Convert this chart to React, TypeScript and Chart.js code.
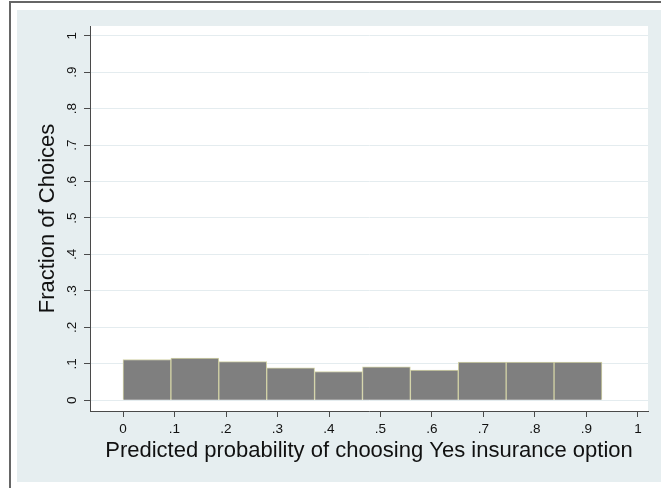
import React, { useEffect, useRef } from 'react';
import { Chart, registerables } from 'chart.js';

Chart.register(...registerables);

// Histogram bins of the predicted probability (bin width ~0.093, starting at 0)
const binWidth = 0.093;
const binStarts = [0, 0.093, 0.186, 0.279, 0.372, 0.465, 0.558, 0.651, 0.744, 0.837];
const fractions = [0.112, 0.116, 0.106, 0.089, 0.079, 0.092, 0.083, 0.105, 0.105, 0.105];

// Axis ticks (shared by both axes)
const tickValues = [0, 0.1, 0.2, 0.3, 0.4, 0.5, 0.6, 0.7, 0.8, 0.9, 1];
const tickLabels = ['0', '.1', '.2', '.3', '.4', '.5', '.6', '.7', '.8', '.9', '1'];

const xTitle = 'Predicted probability of choosing Yes insurance option';
const yTitle = 'Fraction of Choices';

const FONT = "'Liberation Sans', Arial, Helvetica, sans-serif";
const REGION_BG = '#e6eef0';
const GRID = '#e4ecef';
const AXIS = '#4a4a4a';

// Graph region, plot region and outer frame
const backdrop = {
  id: 'backdrop',
  beforeDraw(chart: Chart) {
    const { ctx, chartArea: a, width, height } = chart;
    ctx.save();
    ctx.fillStyle = '#ffffff';
    ctx.fillRect(0, 0, width, height);
    ctx.fillStyle = REGION_BG;
    ctx.fillRect(17, 10, width - 17, 472);
    ctx.fillStyle = '#ffffff';
    ctx.fillRect(a.left, a.top, a.right - a.left, a.bottom - a.top);
    ctx.fillStyle = '#666666';
    ctx.fillRect(9, 1, 2, height);
    ctx.fillRect(9, 1, width - 9, 2);
    ctx.restore();
  },
};

const setTicks = (scale: any) => {
  scale.ticks = tickValues.map((v) => ({ value: v }));
};
const tickLabel = (value: number | string) => {
  const i = tickValues.findIndex((t) => Math.abs(t - Number(value)) < 1e-9);
  return i >= 0 ? tickLabels[i] : '';
};

export default function App() {
  const ref = useRef<HTMLCanvasElement | null>(null);

  useEffect(() => {
    document.body.style.margin = '0';
    const canvas = ref.current;
    if (!canvas) return;

    const chart = new Chart(canvas, {
      type: 'bar',
      data: {
        datasets: [
          {
            data: binStarts.map((s, i) => ({ x: s + binWidth / 2, y: fractions[i] })),
            backgroundColor: '#7f7f7f',
            borderColor: '#d2d2a6',
            borderWidth: 1,
            barPercentage: 1,
            categoryPercentage: 1,
          },
        ],
      },
      options: {
        animation: false,
        responsive: false,
        devicePixelRatio: 1,
        events: [],
        layout: { padding: { left: 17, top: 26, right: 13, bottom: 6 } },
        plugins: {
          legend: { display: false },
          tooltip: { enabled: false },
        },
        scales: {
          x: {
            type: 'linear',
            bounds: 'data',
            offset: false,
            min: -0.06408,
            max: 1.01942,
            afterBuildTicks: setTicks,
            afterFit: (s: any) => {
              s.height = 71;
            },
            grid: {
              offset: false,
              drawOnChartArea: false,
              drawTicks: true,
              tickLength: 6,
              tickColor: AXIS,
            },
            border: { display: true, color: AXIS, width: 1 },
            ticks: {
              autoSkip: false,
              maxRotation: 0,
              minRotation: 0,
              padding: 4,
              color: '#111',
              font: { family: FONT, size: 13.5 },
              callback: tickLabel,
            },
            title: {
              display: true,
              text: xTitle,
              color: '#111',
              font: { family: FONT, size: 22 },
              padding: { top: 0, bottom: 18 },
            },
          },
          y: {
            type: 'linear',
            bounds: 'data',
            min: -0.02935,
            max: 1.0266,
            afterBuildTicks: setTicks,
            afterFit: (s: any) => {
              s.width = 73;
            },
            grid: {
              color: GRID,
              lineWidth: 1,
              drawTicks: true,
              tickLength: 6,
              tickColor: AXIS,
            },
            border: { display: true, color: AXIS, width: 1 },
            ticks: {
              autoSkip: false,
              minRotation: 90,
              maxRotation: 90,
              crossAlign: 'center',
              padding: 6,
              color: '#111',
              font: { family: FONT, size: 13.5 },
              callback: tickLabel,
            },
            title: {
              display: true,
              text: yTitle,
              color: '#111',
              font: { family: FONT, size: 22 },
              padding: { top: 18, bottom: 0 },
            },
          },
        },
      },
      plugins: [backdrop],
    } as any);

    return () => chart.destroy();
  }, []);

  return <canvas ref={ref} width={661} height={488} style={{ display: 'block' }} />;
}
